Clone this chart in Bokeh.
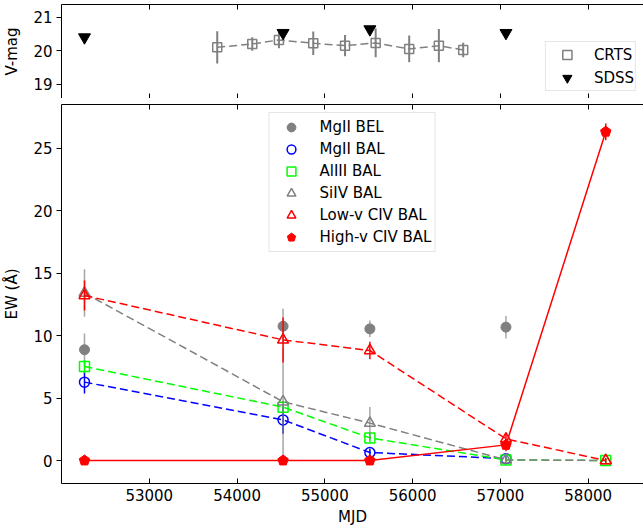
from bokeh.plotting import figure
from bokeh.models import (ColumnDataSource, Legend, LegendItem, LinearAxis,
                          Range1d, FixedTicker, CustomJSTickFormatter)
from bokeh.layouts import column
from bokeh.embed import file_html
from bokeh.resources import INLINE

FONT = "DejaVu Sans"
FS = "15px"

# ---------------- data: top panel (light curve) ----------------
crts_mjd = [53774, 54173, 54477, 54868, 55230, 55579, 55961, 56299, 56576]
crts_vmag = [20.10, 20.20, 20.32, 20.22, 20.15, 20.23, 20.05, 20.15, 20.02]
crts_err = [0.48, 0.20, 0.25, 0.35, 0.32, 0.43, 0.40, 0.50, 0.22]
sdss_mjd = [52262, 54524, 55513, 57063]
sdss_vmag = [20.40, 20.53, 20.64, 20.53]

# ---------------- data: bottom panel (equivalent widths) ----------------
epoch_mjd = [52262, 54524, 55513, 57063, 58200]
mgii_bel_ew = [8.86, 10.74, 10.53, 10.67]
mgii_bel_err = [1.3, 1.4, 0.67, 0.9]
mgii_bal_ew = [6.27, 3.25, 0.64, 0.15]
mgii_bal_err = [0.9, 1.1, 0.3, 0.2]
aliii_bal_ew = [7.52, 4.27, 1.81, 0.05, 0.0]
aliii_bal_err = [0.5, 0.5, 0.35, 0.2, 0.2]
siiv_bal_ew = [13.4, 4.7, 2.99, 0.05, 0.0]
siiv_bal_err = [1.9, 4.3, 1.3, 0.3, 0.1]
lowv_civ_ew = [13.2, 9.65, 8.8, 1.73, 0.0]
lowv_civ_err = [1.2, 1.8, 0.7, 0.5, 0.2]
highv_civ_ew = [0.0, 0.0, 0.0, 1.25, 26.3]
highv_civ_err = [0.1, 0.1, 0.1, 0.5, 0.67]

x_ticks = [53000, 54000, 55000, 56000, 57000, 58000]
top_y_ticks = [19, 20, 21]
bot_y_ticks = [0, 5, 10, 15, 20, 25]

X_RANGE = (52000, 58630)
LEFT = 54
FW = 582


def style_common(p):
    p.xgrid.grid_line_color = None
    p.ygrid.grid_line_color = None
    p.outline_line_color = None
    p.background_fill_color = "white"
    p.border_fill_color = "white"


def style_xaxis(ax, labels):
    ax.ticker = FixedTicker(ticks=x_ticks)
    ax.major_tick_in = 5
    ax.major_tick_out = 0
    ax.minor_tick_in = 0
    ax.minor_tick_out = 0
    ax.axis_line_color = "black"
    ax.axis_line_width = 1
    ax.major_tick_line_color = "black"
    ax.major_label_text_font = FONT
    ax.major_label_text_color = "black"
    if labels:
        ax.major_label_text_font_size = FS
        ax.major_label_standoff = 5
    else:
        ax.formatter = CustomJSTickFormatter(code="return ''")
        ax.major_label_text_font_size = "1px"
        ax.major_label_standoff = 0


def style_yaxis(ax, ticks, label):
    ax.ticker = FixedTicker(ticks=ticks)
    ax.major_tick_in = 0
    ax.major_tick_out = 5
    ax.minor_tick_in = 0
    ax.minor_tick_out = 0
    ax.axis_line_color = "black"
    ax.major_tick_line_color = "black"
    ax.major_label_text_font = FONT
    ax.major_label_text_font_size = FS
    ax.major_label_text_color = "black"
    ax.major_label_standoff = 4
    ax.axis_label = label
    ax.axis_label_text_font = FONT
    ax.axis_label_text_font_size = FS
    ax.axis_label_text_font_style = "normal"
    ax.axis_label_text_color = "black"
    ax.axis_label_standoff = 9


def errbar(p, x, y, err, color, alpha=1.0, width=1.5):
    src = ColumnDataSource(dict(
        x=x,
        lo=[v - e for v, e in zip(y, err)],
        hi=[v + e for v, e in zip(y, err)],
    ))
    return p.segment(x0="x", y0="lo", x1="x", y1="hi", source=src,
                     line_color=color, line_width=width, line_alpha=alpha)


def style_legend(leg, gw, gh, spacing, padding, standoff):
    leg.label_text_font = FONT
    leg.label_text_font_size = FS
    leg.label_text_color = "black"
    leg.glyph_width = gw
    leg.glyph_height = gh
    leg.label_height = gh
    leg.spacing = spacing
    leg.padding = padding
    leg.label_standoff = standoff
    leg.border_line_color = "#cccccc"
    leg.background_fill_alpha = 0.8


# ======================= top panel =======================
top = figure(frame_width=FW, frame_height=94,
             x_range=Range1d(*X_RANGE), y_range=Range1d(18.57, 21.38),
             output_backend="svg", toolbar_location=None,
             min_border_left=LEFT, min_border_right=0,
             min_border_top=4, min_border_bottom=0)
style_common(top)
style_xaxis(top.xaxis[0], labels=False)
top_above = LinearAxis()
style_xaxis(top_above, labels=False)
top.add_layout(top_above, "above")
style_yaxis(top.yaxis[0], top_y_ticks, "V-mag")

top.line(crts_mjd, crts_vmag, line_color="gray", line_width=1.5, line_dash="8 4")
errbar(top, crts_mjd, crts_vmag, crts_err, "gray", width=2)
r_crts = top.scatter(crts_mjd, crts_vmag, marker="square", size=9,
                     fill_color=None, line_color="gray", line_width=1.5)
r_sdss = top.scatter(sdss_mjd, sdss_vmag, marker="inverted_triangle", size=12,
                     fill_color="black", line_color="black")

top_leg = Legend(items=[LegendItem(label="CRTS", renderers=[r_crts]),
                        LegendItem(label="SDSS", renderers=[r_sdss])],
                 location="bottom_right", margin=7)
style_legend(top_leg, gw=40, gh=23, spacing=0, padding=1, standoff=7)
top.add_layout(top_leg)

# ======================= bottom panel =======================
bot = figure(frame_width=FW, frame_height=379,
             x_range=Range1d(*X_RANGE), y_range=Range1d(-1.84, 28.48),
             output_backend="svg", toolbar_location=None,
             min_border_left=LEFT, min_border_right=0,
             min_border_top=6, min_border_bottom=0)
style_common(bot)
style_xaxis(bot.xaxis[0], labels=True)
bot.xaxis[0].axis_label = "MJD"
bot.xaxis[0].axis_label_text_font = FONT
bot.xaxis[0].axis_label_text_font_size = FS
bot.xaxis[0].axis_label_text_font_style = "normal"
bot.xaxis[0].axis_label_text_color = "black"
bot.xaxis[0].axis_label_standoff = 4
bot_above = LinearAxis()
style_xaxis(bot_above, labels=False)
bot.add_layout(bot_above, "above")
style_yaxis(bot.yaxis[0], bot_y_ticks, "EW (Å)")

n4 = epoch_mjd[:4]
items = []

# MgII BEL
errbar(bot, n4, mgii_bel_ew, mgii_bel_err, "gray", alpha=0.7)
r = bot.scatter(n4, mgii_bel_ew, marker="circle", size=10,
                fill_color="gray", line_color="gray")
items.append(LegendItem(label="MgII BEL", renderers=[r]))

# MgII BAL
bot.line(n4, mgii_bal_ew, line_color="blue", line_width=1.5, line_dash="8 4")
errbar(bot, n4, mgii_bal_ew, mgii_bal_err, "blue")
r = bot.scatter(n4, mgii_bal_ew, marker="circle", size=10,
                fill_color=None, line_color="blue", line_width=1.5)
items.append(LegendItem(label="MgII BAL", renderers=[r]))

# AlIII BAL
bot.line(epoch_mjd, aliii_bal_ew, line_color="lime", line_width=1.5, line_dash="8 4")
errbar(bot, epoch_mjd, aliii_bal_ew, aliii_bal_err, "lime")
r = bot.scatter(epoch_mjd, aliii_bal_ew, marker="square", size=10,
                fill_color=None, line_color="lime", line_width=1.5)
items.append(LegendItem(label="AlIII BAL", renderers=[r]))

# SiIV BAL
bot.line(epoch_mjd, siiv_bal_ew, line_color="gray", line_width=1.5, line_dash="8 4")
errbar(bot, epoch_mjd, siiv_bal_ew, siiv_bal_err, "gray", alpha=0.7)
r = bot.scatter(epoch_mjd, siiv_bal_ew, marker="triangle", size=11,
                fill_color=None, line_color="gray", line_width=1.5)
items.append(LegendItem(label="SiIV BAL", renderers=[r]))

# Low-v CIV BAL
bot.line(epoch_mjd, lowv_civ_ew, line_color="red", line_width=1.5, line_dash="8 4")
errbar(bot, epoch_mjd, lowv_civ_ew, lowv_civ_err, "red")
r = bot.scatter(epoch_mjd, lowv_civ_ew, marker="triangle", size=11,
                fill_color=None, line_color="red", line_width=1.5)
items.append(LegendItem(label="Low-v CIV BAL", renderers=[r]))

# High-v CIV BAL
bot.line(epoch_mjd, highv_civ_ew, line_color="red", line_width=1.5)
errbar(bot, epoch_mjd, highv_civ_ew, highv_civ_err, "red")
if hasattr(bot, "ngon"):
    r = bot.ngon(x=epoch_mjd, y=highv_civ_ew, radius=5.5, radius_units="screen",
                 n=5, fill_color="red", line_color="red")
else:
    r = bot.scatter(epoch_mjd, highv_civ_ew, marker="hex", size=10,
                    fill_color="red", line_color="red")
items.append(LegendItem(label="High-v CIV BAL", renderers=[r]))

bot_leg = Legend(items=items, location="top_center", margin=8)
style_legend(bot_leg, gw=37, gh=22, spacing=0, padding=3, standoff=10)
bot.add_layout(bot_leg)

layout = column(top, bot, spacing=0)

open("out.html", "w").write(file_html(layout, INLINE))
